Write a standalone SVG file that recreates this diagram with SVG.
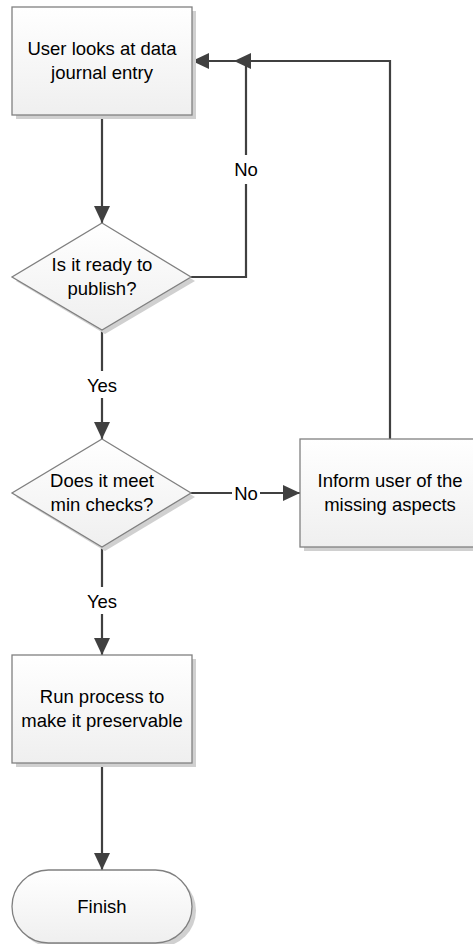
<svg xmlns="http://www.w3.org/2000/svg" width="473" height="944" viewBox="0 0 473 944">
<defs>
<linearGradient id="g" x1="0" y1="0" x2="0" y2="1">
<stop offset="0" stop-color="#ffffff"/>
<stop offset="1" stop-color="#efefef"/>
</linearGradient>
<marker id="ah" viewBox="0 0 17 16" refX="17" refY="8" markerWidth="17" markerHeight="16" markerUnits="userSpaceOnUse" orient="auto">
<path d="M0,0 L17,8 L0,16 Z" fill="#404040"/>
</marker>
<style>
.shape{fill:url(#g);stroke:#808080;stroke-width:1.3}
.shadow{fill:#d0d0d0;stroke:none}
.t{font-family:"Liberation Sans",Arial,sans-serif;font-size:18.5px;fill:#000;text-anchor:middle}
.c{fill:none;stroke:#404040;stroke-width:2.2}
.lbl{font-family:"Liberation Sans",Arial,sans-serif;font-size:18.5px;fill:#000;text-anchor:middle}
</style>
</defs>
<rect width="473" height="944" fill="#fff"/>
<g id="connectors">
<path class="c" d="M102,115 V223" marker-end="url(#ah)"/>
<path class="c" d="M191,277 H246 V61 H192" marker-end="url(#ah)"/>
<path class="c" d="M390,439 V61 H234" marker-end="url(#ah)"/>
<path class="c" d="M102,330 V371 M102,398 V439" marker-end="url(#ah)"/>
<path class="c" d="M191,493 H232 M260,493 H300" marker-end="url(#ah)"/>
<path class="c" d="M102,547 V587 M102,614 V655" marker-end="url(#ah)"/>
<path class="c" d="M102,763 V870" marker-end="url(#ah)"/>
<rect x="233" y="155" width="26" height="29" fill="#fff"/>
<text class="lbl" x="246" y="176">No</text>
<text class="lbl" x="102" y="392">Yes</text>
<text class="lbl" x="246" y="500">No</text>
<text class="lbl" x="102" y="608">Yes</text>
</g>
<g id="n1">
<rect class="shadow" x="16" y="11" width="180" height="108"/>
<rect class="shape" x="12" y="7" width="180" height="108"/>
<text class="t" x="102" y="55">User looks at data</text>
<text class="t" x="102" y="79">journal entry</text>
</g>
<g id="n2">
<path class="shadow" d="M105,227 L195,281 L105,334 L16,281 Z"/>
<path class="shape" d="M102,223 L191,277 L102,330 L12,277 Z"/>
<text class="t" x="102" y="271">Is it ready to</text>
<text class="t" x="102" y="295">publish?</text>
</g>
<g id="n3">
<path class="shadow" d="M105,443 L195,497 L105,551 L16,497 Z"/>
<path class="shape" d="M102,439 L191,493 L102,547 L12,493 Z"/>
<text class="t" x="102" y="487">Does it meet</text>
<text class="t" x="102" y="511">min checks?</text>
</g>
<g id="n4">
<rect class="shadow" x="304" y="443" width="180" height="108"/>
<rect class="shape" x="300" y="439" width="180" height="108"/>
<text class="t" x="390" y="487">Inform user of the</text>
<text class="t" x="390" y="511">missing aspects</text>
</g>
<g id="n5">
<rect class="shadow" x="16" y="659" width="180" height="108"/>
<rect class="shape" x="12" y="655" width="180" height="108"/>
<text class="t" x="102" y="703">Run process to</text>
<text class="t" x="102" y="727">make it preservable</text>
</g>
<g id="n6">
<rect class="shadow" x="16" y="874" width="180" height="73" rx="36.5"/>
<rect class="shape" x="12" y="870" width="180" height="73" rx="36.5"/>
<text class="t" x="102" y="913">Finish</text>
</g>
</svg>
